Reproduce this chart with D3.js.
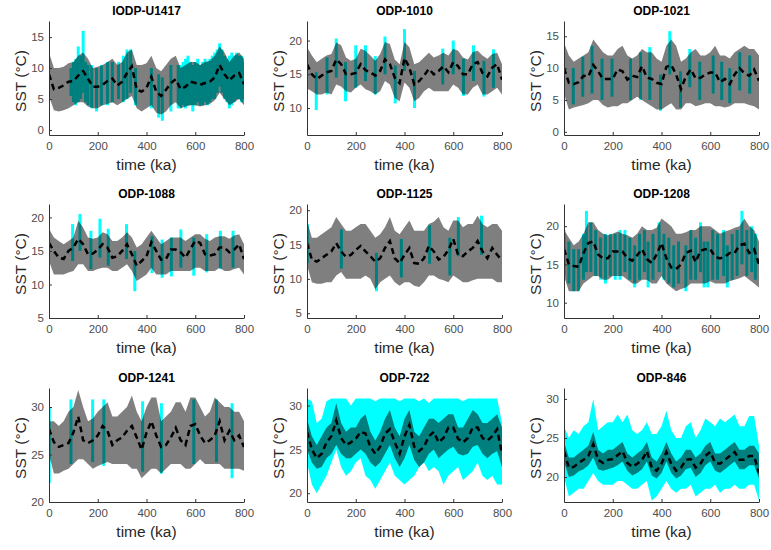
<!DOCTYPE html>
<html>
<head>
<meta charset="utf-8">
<script src="https://cdn.jsdelivr.net/npm/d3@7"></script>
<style>
  html, body { margin: 0; padding: 0; background: #ffffff; }
  svg { display: block; font-family: "Liberation Sans", Arial, Helvetica, sans-serif; }
</style>
</head>
<body>
<svg id="chart" width="771" height="550"></svg>
<script>
// ---------------- DATA ----------------
const siteNames = ["IODP-U1417", "ODP-1010", "ODP-1021", "ODP-1088", "ODP-1125", "ODP-1208", "ODP-1241", "ODP-722", "ODP-846"];
const timeTicks = [0, 200, 400, 600, 800];
const times = [0, 20, 40, 60, 80, 100, 120, 140, 160, 180, 200, 220, 240, 260, 280, 300, 320, 340, 360, 380, 400,
               420, 440, 460, 480, 500, 520, 540, 560, 580, 600, 620, 640, 660, 680, 700, 720, 740, 760, 780, 800];

const yDomains = [[-0.8, 17.6], [6, 22.9], [-0.5, 17.4], [5, 22], [4.3, 20.9], [8, 22.9], [20, 32], [19, 32], [16.8, 31.4]];
const yTickValues = [[0, 5, 10, 15], [10, 15, 20], [0, 5, 10, 15], [5, 10, 15, 20], [5, 10, 15, 20], [10, 15, 20], [20, 25, 30], [20, 25, 30], [20, 25, 30]];

// model ensemble mean (dashed line)
const meanU1417 = [9.0, 6.6, 6.8, 7.2, 7.8, 7.9, 8.8, 9.5, 8.3, 7.0, 7.0, 7.3, 7.9, 8.3, 7.2, 7.8, 9.2, 10.3, 6.5, 6.2, 6.8,
                   8.6, 6.2, 5.5, 6.5, 7.6, 8.2, 6.6, 7.0, 7.8, 7.6, 7.3, 7.6, 7.8, 8.5, 10.5, 9.0, 8.0, 8.8, 9.2, 7.4];
const mean1010 = [16.5, 15.0, 14.3, 14.8, 15.3, 15.5, 17.2, 16.5, 15.0, 15.0, 15.2, 16.5, 15.6, 15.3, 14.8, 15.5, 17.2, 16.5, 14.5, 13.7, 17.4,
                  16.0, 13.5, 14.0, 14.8, 15.8, 15.0, 15.5, 16.2, 15.3, 16.8, 16.2, 15.0, 15.0, 16.5, 16.8, 15.2, 14.7, 16.0, 16.5, 14.2];
const mean1021 = [10.0, 7.7, 7.5, 7.8, 8.8, 8.7, 10.5, 9.5, 8.3, 8.3, 8.3, 9.8, 9.5, 8.2, 8.8, 8.6, 10.3, 8.5, 8.3, 7.7, 7.5,
                  10.2, 10.5, 9.0, 6.7, 8.7, 9.8, 8.4, 8.5, 9.0, 9.3, 9.3, 7.8, 8.3, 7.5, 9.0, 10.0, 9.2, 8.8, 9.8, 8.0];
const mean1088 = [16.2, 15.0, 14.0, 13.8, 15.0, 15.5, 16.8, 16.0, 14.5, 14.6, 15.2, 16.0, 15.5, 14.0, 14.2, 15.0, 16.0, 14.5, 12.8, 13.5, 14.2,
                  16.3, 15.0, 13.7, 13.8, 15.2, 15.2, 14.8, 14.0, 15.3, 16.5, 16.2, 14.5, 14.3, 14.5, 15.5, 15.5, 14.8, 15.2, 16.0, 13.8];
const mean1125 = [15.2, 12.8, 12.5, 13.0, 13.5, 14.0, 15.2, 14.0, 13.2, 13.5, 14.2, 14.8, 14.0, 13.3, 12.5, 13.0, 14.5, 15.5, 13.0, 12.3, 13.5,
                  14.5, 12.3, 12.2, 13.0, 14.8, 14.0, 12.8, 13.2, 14.2, 15.8, 13.5, 13.3, 14.0, 14.5, 15.5, 14.0, 13.0, 14.5, 13.5, 12.7];
const mean1208 = [17.0, 15.0, 14.8, 14.7, 16.5, 17.8, 18.0, 16.3, 15.8, 15.8, 16.7, 16.7, 16.7, 15.8, 15.5, 16.2, 17.0, 15.7, 15.2, 16.3, 17.8,
                  15.8, 14.6, 14.4, 15.0, 16.5, 16.8, 15.3, 16.8, 17.0, 17.0, 16.0, 15.8, 16.0, 16.5, 16.5, 17.5, 17.7, 16.5, 17.0, 15.0];
const mean1241 = [27.7, 26.3, 25.8, 26.0, 26.2, 27.3, 29.0, 26.5, 26.2, 26.5, 27.0, 28.0, 27.5, 26.0, 26.5, 26.8, 27.5, 28.0, 26.8, 25.5, 27.3,
                  28.5, 27.0, 25.8, 26.0, 26.8, 27.8, 26.5, 26.0, 28.0, 28.2, 27.0, 26.2, 26.5, 27.0, 28.5, 26.5, 27.5, 26.5, 27.0, 25.8];
const mean722 = [27.0, 25.0, 24.0, 24.5, 25.8, 26.5, 28.3, 26.3, 25.5, 25.8, 26.2, 27.0, 26.8, 25.3, 24.5, 25.3, 26.8, 27.3, 25.8, 24.5, 26.5,
                 27.8, 25.3, 24.8, 25.3, 26.5, 27.0, 25.8, 26.3, 27.5, 27.5, 26.2, 25.8, 26.3, 27.5, 27.5, 26.3, 26.0, 26.5, 27.3, 24.5];
const mean846 = [23.3, 21.2, 21.3, 21.8, 22.2, 22.7, 24.2, 22.2, 21.8, 22.2, 22.3, 22.8, 23.3, 21.8, 21.3, 21.7, 22.2, 23.3, 21.2, 20.8, 21.7,
                 23.2, 21.7, 20.8, 21.2, 22.2, 22.3, 21.2, 21.7, 22.7, 23.2, 21.8, 21.7, 22.2, 22.7, 23.2, 22.2, 22.2, 22.7, 22.7, 20.5];

// model ensemble envelope (gray band) lower / upper
const lowU1417 = [5.5, 3.2, 3.0, 3.2, 3.5, 4.0, 4.5, 4.5, 3.8, 3.5, 3.5, 4.0, 4.2, 4.5, 4.0, 4.5, 5.0, 5.5, 3.5, 3.0, 3.5,
                  4.0, 2.8, 2.5, 3.0, 4.0, 4.5, 3.5, 3.8, 4.0, 4.0, 3.8, 4.0, 4.2, 4.8, 6.0, 5.0, 4.0, 4.5, 5.0, 4.0];
const highU1417 = [12.5, 10.0, 10.0, 10.2, 10.8, 11.0, 12.0, 12.5, 11.5, 10.0, 10.2, 10.5, 11.0, 11.5, 10.5, 11.0, 12.5, 13.0, 10.5, 10.5, 10.8,
                   12.0, 10.0, 9.5, 10.5, 11.5, 12.0, 10.0, 10.5, 11.0, 11.0, 10.5, 11.0, 11.2, 12.0, 13.5, 12.5, 11.0, 12.0, 12.5, 11.5];
const low1010 = [12.9, 12.5, 12.0, 12.0, 12.3, 12.0, 13.5, 13.2, 12.5, 12.3, 13.0, 13.5, 12.8, 12.5, 12.0, 12.5, 14.0, 13.5, 11.5, 11.0, 13.8,
                 13.0, 11.0, 11.5, 12.5, 13.0, 12.5, 12.5, 12.5, 12.5, 13.5, 13.0, 12.0, 12.0, 13.0, 13.5, 12.0, 12.0, 12.5, 13.0, 12.0];
const high1010 = [19.0, 17.8, 16.8, 17.3, 17.8, 18.0, 19.7, 19.3, 17.5, 17.0, 17.3, 18.8, 18.5, 17.8, 17.0, 18.0, 19.8, 19.5, 17.2, 16.5, 19.8,
                  19.0, 16.5, 16.8, 17.5, 18.2, 17.5, 17.8, 18.2, 17.8, 18.8, 18.5, 17.5, 17.2, 18.3, 18.5, 17.8, 17.3, 18.0, 18.2, 16.5];
const low1021 = [6.0, 3.5, 3.8, 4.0, 4.2, 4.5, 5.0, 5.0, 4.2, 3.8, 4.0, 4.0, 4.5, 4.5, 5.0, 5.5, 5.0, 4.5, 4.0, 3.5, 3.5,
                 4.0, 4.5, 3.5, 3.5, 4.5, 4.5, 4.0, 4.2, 4.5, 4.5, 4.0, 4.0, 3.8, 4.0, 4.5, 4.5, 4.5, 4.2, 4.0, 3.5];
const high1021 = [14.0, 12.0, 11.0, 11.5, 12.0, 12.5, 14.5, 13.5, 12.5, 12.0, 12.0, 13.0, 13.5, 12.0, 11.5, 12.0, 13.0, 12.5, 12.5, 11.5, 11.0,
                  13.5, 14.5, 13.5, 11.0, 11.5, 12.5, 13.0, 12.0, 12.0, 12.5, 13.5, 12.0, 12.0, 11.5, 12.5, 13.0, 13.5, 13.0, 13.0, 12.0];
const low1088 = [13.5, 11.5, 11.5, 11.5, 11.8, 12.0, 13.0, 13.0, 12.0, 12.0, 12.3, 12.5, 12.5, 12.0, 12.0, 12.5, 13.0, 12.0, 10.5, 11.0, 11.5,
                 12.5, 11.5, 11.5, 11.5, 12.0, 12.0, 12.0, 12.0, 12.0, 12.5, 12.5, 12.0, 12.0, 12.0, 12.5, 12.0, 12.0, 12.3, 12.5, 11.5];
const high1088 = [18.3, 17.0, 16.5, 16.0, 16.5, 17.0, 19.5, 18.5, 17.0, 16.8, 17.0, 17.8, 17.5, 16.5, 16.5, 17.0, 17.8, 17.0, 15.5, 16.0, 17.0,
                  18.0, 17.0, 16.0, 16.5, 17.0, 17.0, 17.0, 16.5, 17.0, 17.5, 17.5, 16.8, 16.5, 17.0, 17.2, 17.2, 16.8, 17.3, 17.5, 16.0];
const low1125 = [12.0, 9.5, 9.3, 9.3, 9.5, 9.5, 10.5, 11.0, 10.0, 10.0, 10.0, 10.0, 10.5, 10.0, 8.5, 9.5, 10.0, 10.5, 9.5, 9.0, 9.5,
                 9.5, 9.0, 8.8, 9.5, 10.5, 10.5, 10.0, 9.8, 9.5, 10.5, 10.0, 9.5, 9.5, 9.8, 10.0, 10.0, 10.0, 10.0, 9.5, 9.5];
const high1125 = [18.5, 16.0, 16.0, 16.5, 17.0, 17.5, 19.0, 18.0, 17.0, 17.0, 17.5, 18.0, 18.0, 17.0, 16.0, 16.5, 17.5, 19.0, 17.0, 16.5, 17.5,
                  18.5, 17.0, 17.0, 17.0, 18.0, 18.3, 19.0, 17.5, 17.0, 18.5, 18.5, 17.5, 18.0, 18.0, 19.2, 18.0, 17.5, 18.0, 18.0, 17.0];
const low1208 = [13.5, 11.5, 11.5, 11.5, 12.5, 13.0, 13.5, 13.5, 13.0, 13.0, 13.5, 13.5, 13.5, 13.0, 12.5, 12.5, 13.0, 13.0, 12.5, 12.5, 13.5,
                 12.5, 12.0, 11.5, 11.8, 12.0, 12.5, 12.5, 12.5, 12.5, 12.8, 12.5, 12.5, 12.5, 12.8, 13.0, 13.2, 13.5, 13.0, 12.5, 12.0];
const high1208 = [19.5, 18.5, 17.5, 18.0, 19.0, 20.5, 20.5, 19.5, 19.0, 18.8, 19.0, 19.3, 19.0, 18.8, 18.5, 19.0, 20.0, 19.5, 19.5, 19.8, 21.0,
                  20.5, 20.0, 19.0, 19.0, 19.2, 19.5, 19.5, 20.0, 20.0, 20.0, 19.5, 19.0, 19.3, 19.5, 19.8, 20.0, 21.0, 20.0, 19.5, 18.0];
const low1241 = [25.0, 23.0, 23.0, 23.3, 23.5, 24.0, 24.5, 24.5, 24.0, 23.5, 23.8, 24.0, 24.2, 24.0, 24.0, 24.0, 24.0, 23.5, 23.5, 22.5, 23.0,
                 23.5, 23.5, 23.0, 23.5, 24.0, 24.0, 24.0, 23.5, 23.5, 24.0, 24.5, 24.0, 24.0, 24.0, 24.0, 23.5, 23.5, 23.5, 23.5, 23.3];
const high1241 = [28.5, 28.5, 28.0, 28.5, 29.5, 30.0, 31.8, 30.0, 28.5, 28.8, 29.5, 30.0, 30.5, 29.0, 29.0, 29.5, 30.0, 31.2, 29.5, 28.5, 30.0,
                  31.0, 31.0, 28.5, 29.0, 29.5, 30.5, 30.5, 29.5, 31.0, 31.0, 30.0, 29.0, 29.5, 31.0, 30.5, 30.0, 30.0, 29.5, 29.5, 28.5];
const low722 = [25.0, 23.5, 22.8, 23.0, 24.0, 24.5, 25.5, 24.5, 24.0, 24.0, 24.5, 25.0, 24.5, 23.5, 23.0, 23.5, 24.5, 25.5, 24.0, 23.0, 24.0,
                25.5, 23.8, 23.0, 23.5, 24.5, 25.0, 24.0, 24.5, 25.0, 25.3, 24.5, 24.3, 24.5, 25.3, 25.5, 24.5, 24.0, 24.5, 24.8, 23.0];
const high722 = [28.5, 26.5, 25.5, 26.5, 27.5, 28.0, 30.3, 28.0, 27.0, 27.5, 27.5, 28.5, 29.0, 27.0, 26.0, 27.0, 28.5, 29.5, 27.5, 26.5, 28.5,
                 29.5, 27.0, 26.5, 27.5, 28.5, 28.5, 28.0, 28.5, 29.0, 29.0, 27.5, 27.5, 28.5, 29.5, 29.0, 28.0, 28.0, 28.5, 29.0, 27.5];
const low846 = [22.0, 20.0, 20.2, 20.7, 21.0, 21.5, 22.5, 21.0, 20.8, 21.0, 21.2, 21.5, 22.0, 20.8, 20.2, 20.5, 21.0, 22.0, 20.2, 19.8, 20.5,
                22.0, 20.5, 19.8, 20.2, 21.0, 21.2, 20.0, 20.5, 21.5, 22.0, 20.8, 20.5, 21.0, 21.5, 22.0, 21.0, 21.0, 21.5, 21.5, 19.8];
const high846 = [24.5, 22.5, 22.5, 23.0, 23.5, 24.0, 25.8, 23.5, 23.0, 23.5, 23.5, 24.0, 24.5, 23.0, 22.5, 23.0, 23.5, 24.5, 22.5, 22.0, 23.0,
                 24.5, 23.0, 22.0, 22.5, 23.5, 23.5, 22.5, 23.0, 24.0, 24.5, 23.0, 23.0, 23.5, 24.0, 24.5, 23.5, 23.5, 24.0, 24.0, 23.0];

// proxy ranges drawn as cyan bars: [time (ka), low SST, high SST]
const proxyBarsU1417 = [[90, 5.5, 10], [100, 4.5, 11], [110, 4, 11.5], [120, 4.5, 13.5], [130, 5, 12], [140, 6, 16], [150, 4.5, 11],
  [160, 4, 10.5], [175, 3.5, 10.5], [195, 3, 10], [215, 4, 10.5], [240, 4, 11], [260, 4.5, 11], [285, 5, 11], [305, 4.5, 12],
  [320, 5, 13], [335, 6, 13], [355, 4, 10], [420, 3.5, 10], [450, 2, 9], [465, 1.5, 8.5], [500, 3, 10.5], [530, 3.5, 10.5],
  [540, 3.5, 10.5], [550, 4, 11], [560, 3.5, 11.5], [570, 4, 12], [580, 4, 11], [590, 3, 10.5], [600, 4, 11], [610, 4.5, 11.5],
  [620, 4, 10.5], [630, 4, 11], [640, 4.5, 11.5], [650, 4, 11], [660, 4.5, 11.5], [670, 5, 12], [680, 5, 12.5], [690, 6, 13],
  [700, 7, 14], [710, 6, 13], [720, 5, 12], [730, 4.5, 11.5], [740, 3.5, 12], [750, 4, 12.5], [760, 4.5, 12], [770, 5, 12.5],
  [780, 5, 12], [790, 4.5, 12], [800, 5, 11]];
const proxyBars1010 = [[38, 9.7, 15.3], [82, 12, 17.5], [120, 14.5, 20.3], [158, 11, 16.8], [200, 13, 19.3], [240, 14, 19.3],
  [280, 12, 17.7], [320, 15, 20.6], [362, 10.7, 16.3], [400, 15.5, 21.7], [441, 10, 15.5], [557, 13.5, 18.8], [600, 15, 20],
  [642, 11.8, 17.3], [683, 14, 19.3], [726, 11.7, 17], [765, 13, 18.7]];
const proxyBars1021 = [[38, 4.3, 10], [77, 5.5, 11.8], [115, 6, 13.5], [156, 5, 11.5], [197, 5.5, 11.5], [273, 5, 11.5],
  [314, 5, 12.5], [352, 5, 13.3], [396, 3.3, 9], [434, 9, 15.8], [478, 3.8, 9.5], [516, 7, 13], [557, 5, 11], [612, 6, 12],
  [647, 5, 11], [680, 4.5, 10], [721, 6.5, 12.5], [762, 6, 12]];
const proxyBars1088 = [[97, 13.5, 19], [127, 15, 20.5], [172, 12.3, 18], [209, 14, 19.8], [243, 12.8, 18.3], [318, 13.8, 19],
  [352, 9, 15], [423, 11.7, 17.2], [464, 11, 16.7], [502, 11.2, 17], [541, 12.5, 18.2], [594, 11.3, 17], [647, 11.8, 17.5],
  [703, 12.3, 18], [755, 12.5, 18]];
const proxyBars1125 = [[1, 12.3, 18], [141, 11.5, 17.2], [285, 8.2, 13.8], [387, 10.2, 15.8], [503, 12.2, 17.8],
  [586, 10.5, 16], [621, 13.3, 19], [716, 13.5, 19.2]];
const proxyBars1208 = [[0, 13.5, 19.5], [20, 12.5, 18], [40, 11.5, 17], [60, 11.5, 17], [80, 13, 19], [92, 14, 22], [110, 14, 20.5],
  [130, 13.5, 19.5], [150, 13, 18.5], [170, 12.5, 19], [190, 13.5, 19], [210, 13, 19], [230, 13, 19.5], [250, 14, 19.5],
  [270, 13, 18.5], [290, 12, 17.5], [310, 13, 19], [330, 14, 19.5], [345, 12, 18], [365, 13, 19], [390, 14, 20.5], [410, 13, 19],
  [430, 12.5, 18.5], [450, 12, 17.5], [470, 12.5, 18], [500, 11.5, 17.5], [520, 13, 19.5], [540, 13, 18.5], [560, 14, 20.5],
  [575, 12, 18], [590, 12, 18], [610, 13, 19.5], [630, 13, 19], [655, 13.5, 19.5], [670, 12, 17.5], [690, 13, 19],
  [710, 13.5, 19.5], [730, 15, 22], [750, 13.5, 19.5], [770, 14, 20], [785, 13, 19]];
const proxyBars1241 = [[1, 22, 30], [90, 24, 30.8], [179, 24.2, 30.8], [225, 23.8, 30.8], [384, 23.2, 30.6], [461, 23, 30.4],
  [594, 24, 30.8], [687, 24.2, 30.8], [751, 22.5, 30.4]];

// proxy ranges drawn as continuous cyan bands (on the times grid)
const proxyLow722 = [23.5, 21.0, 20.0, 21.0, 22.0, 23.5, 25.0, 23.0, 22.0, 22.5, 23.5, 24.0, 22.0, 21.5, 20.5, 21.5, 22.5, 23.5, 22.0, 21.5, 21.0,
                     21.5, 22.0, 23.0, 23.5, 22.5, 23.0, 22.5, 21.0, 22.0, 22.5, 23.0, 21.5, 22.0, 22.5, 23.5, 22.0, 21.5, 22.0, 21.0, 21.0];
const proxyHigh722 = [30.8, 30.5, 28.0, 28.5, 30.5, 30.8, 30.8, 30.8, 30.8, 30.0, 30.8, 30.8, 30.8, 30.8, 30.5, 30.8, 30.8, 30.8, 30.8, 30.5, 30.8,
                      30.8, 30.8, 30.5, 30.8, 30.3, 30.8, 30.8, 30.8, 30.8, 30.8, 30.8, 30.5, 30.8, 30.8, 30.8, 30.8, 30.8, 30.8, 30.8, 28.0];
const proxyLow846 = [20.0, 17.5, 18.0, 18.5, 18.5, 19.5, 20.5, 19.5, 19.0, 19.0, 19.0, 19.5, 19.5, 19.0, 18.5, 18.5, 19.0, 19.5, 17.0, 17.5, 18.5,
                     19.5, 18.5, 18.0, 18.5, 18.5, 19.0, 17.5, 18.0, 18.5, 18.5, 19.0, 18.0, 18.5, 18.5, 19.0, 18.5, 18.5, 19.0, 19.0, 17.0];
const proxyHigh846 = [26.5, 25.0, 26.0, 25.5, 26.5, 27.0, 30.0, 26.0, 26.5, 27.0, 27.0, 28.0, 27.0, 28.0, 26.0, 25.5, 26.0, 27.0, 25.5, 25.5, 26.5,
                      28.5, 26.0, 25.0, 25.0, 26.5, 27.0, 25.0, 26.0, 27.5, 27.0, 26.5, 27.5, 27.0, 27.5, 28.0, 26.5, 26.5, 27.8, 27.8, 24.0];

const meanSeries = [meanU1417, mean1010, mean1021, mean1088, mean1125, mean1208, mean1241, mean722, mean846];
const lowSeries = [lowU1417, low1010, low1021, low1088, low1125, low1208, low1241, low722, low846];
const highSeries = [highU1417, high1010, high1021, high1088, high1125, high1208, high1241, high722, high846];
const proxyBarSeries = [proxyBarsU1417, proxyBars1010, proxyBars1021, proxyBars1088, proxyBars1125, proxyBars1208, proxyBars1241, null, null];
const proxyBandLow = [null, null, null, null, null, null, null, proxyLow722, proxyLow846];
const proxyBandHigh = [null, null, null, null, null, null, null, proxyHigh722, proxyHigh846];

// ---------------- LAYOUT ----------------
const colX = [49, 307, 564];
const rowY = [21, 204, 388];
const plotW = 195, plotH = 114;

const svg = d3.select("#chart");

siteNames.forEach((name, i) => {
  const col = i % 3, row = Math.floor(i / 3);
  const g = svg.append("g").attr("transform", `translate(${colX[col]},${rowY[row]})`);
  const x = d3.scaleLinear().domain([0, 800]).range([0, plotW]);
  const y = d3.scaleLinear().domain(yDomains[i]).range([plotH, 0]);

  const clipId = "clip" + i;
  g.append("clipPath").attr("id", clipId).append("rect")
    .attr("x", 0).attr("y", 0).attr("width", plotW).attr("height", plotH);
  const plot = g.append("g").attr("clip-path", `url(#${clipId})`);

  // cyan proxy
  if (proxyBarSeries[i]) {
    plot.selectAll("rect.proxy").data(proxyBarSeries[i]).join("rect")
      .attr("class", "proxy")
      .attr("x", d => x(d[0]) - 1.5)
      .attr("width", 3)
      .attr("y", d => y(d[2]))
      .attr("height", d => y(d[1]) - y(d[2]))
      .attr("fill", "#00ffff");
  } else {
    const band = times.map((t, k) => ({ t, lo: proxyBandLow[i][k], hi: proxyBandHigh[i][k] }));
    plot.append("path").datum(band)
      .attr("d", d3.area().x(d => x(d.t)).y0(d => y(d.lo)).y1(d => y(d.hi)))
      .attr("fill", "#00ffff");
  }

  // gray model envelope
  const env = times.map((t, k) => ({ t, lo: lowSeries[i][k], hi: highSeries[i][k] }));
  plot.append("path").datum(env)
    .attr("d", d3.area().x(d => x(d.t)).y0(d => y(d.lo)).y1(d => y(d.hi)))
    .attr("fill", "#000000").attr("fill-opacity", 0.5);

  // dashed mean
  const mean = times.map((t, k) => ({ t, v: meanSeries[i][k] }));
  plot.append("path").datum(mean)
    .attr("d", d3.line().x(d => x(d.t)).y(d => y(d.v)))
    .attr("fill", "none").attr("stroke", "#000000")
    .attr("stroke-width", 2.5).attr("stroke-dasharray", "6,4");

  // axes
  const xAxis = d3.axisBottom(x).tickValues(timeTicks).tickSizeInner(-3).tickSizeOuter(0).tickPadding(7);
  const yAxis = d3.axisLeft(y).tickValues(yTickValues[i]).tickSizeInner(-3).tickSizeOuter(0).tickPadding(5);
  const gx = g.append("g").attr("transform", `translate(0,${plotH})`).call(xAxis);
  const gy = g.append("g").call(yAxis);
  [gx, gy].forEach(a => {
    a.select(".domain").attr("stroke", "#333333").attr("stroke-width", 1);
    a.selectAll(".tick line").attr("stroke", "#333333");
    a.selectAll(".tick text").attr("fill", "#4d4d4d")
      .style("font-size", "11.5px").style("font-family", "'Liberation Sans', Arial, sans-serif");
  });

  // title
  g.append("text").attr("x", plotW / 2).attr("y", -6).attr("text-anchor", "middle")
    .style("font-size", "12px").style("font-weight", "bold").attr("fill", "#000")
    .text(name);
  // x label
  g.append("text").attr("x", plotW / 2).attr("y", plotH + 35).attr("text-anchor", "middle")
    .style("font-size", "15.5px").attr("fill", "#262626")
    .text("time (ka)");
  // y label
  g.append("text").attr("transform", `translate(-23,${plotH / 2 + 3}) rotate(-90)`)
    .attr("text-anchor", "middle")
    .style("font-size", "15.5px").attr("fill", "#262626")
    .text("SST (°C)");
});
</script>
</body>
</html>
